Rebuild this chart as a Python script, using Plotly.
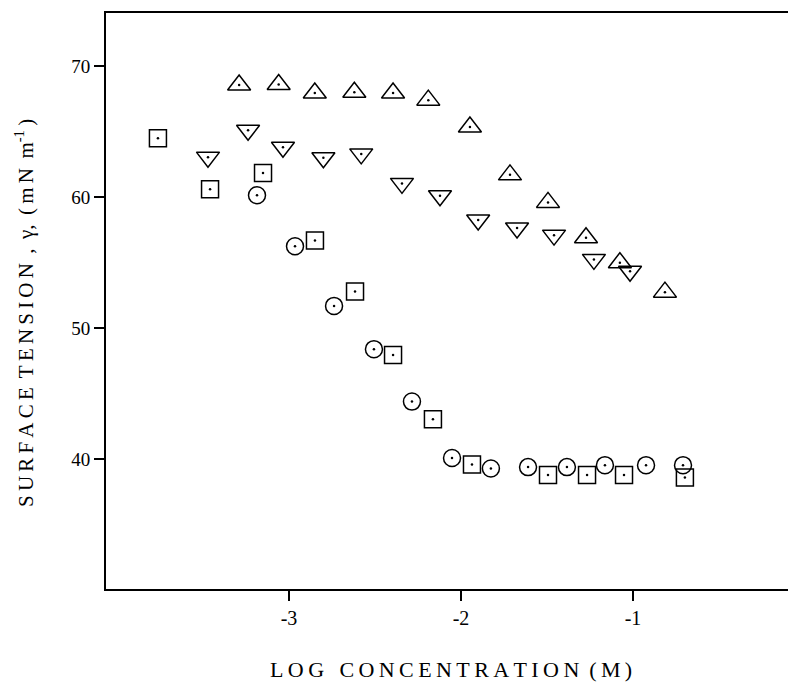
import plotly.graph_objects as go

# Series: log concentration (M) vs surface tension (mN m^-1)
tri_up_x = [-3.29, -3.06, -2.85, -2.62, -2.395, -2.19, -1.948, -1.715, -1.494, -1.273, -1.076, -0.814]
tri_up_y = [68.55, 68.6, 67.95, 68.0, 67.95, 67.4, 65.35, 61.7, 59.6, 56.9, 55.0, 52.75]

tri_dn_x = [-3.471, -3.238, -3.035, -2.80, -2.58, -2.343, -2.122, -1.90, -1.674, -1.459, -1.227, -1.017]
tri_dn_y = [63.05, 65.1, 63.8, 63.0, 63.3, 61.05, 60.1, 58.25, 57.65, 57.1, 55.25, 54.35]

sq_x = [-3.762, -3.459, -3.151, -2.849, -2.616, -2.395, -2.163, -1.936, -1.494, -1.267, -1.052, -0.698]
sq_y = [64.5, 60.6, 61.85, 56.7, 52.8, 47.95, 43.05, 39.6, 38.8, 38.8, 38.8, 38.6]

circ_x = [-3.186, -2.965, -2.738, -2.506, -2.285, -2.052, -1.826, -1.61, -1.384, -1.163, -0.924, -0.709]
circ_y = [60.15, 56.25, 51.7, 48.4, 44.4, 40.1, 39.3, 39.4, 39.4, 39.55, 39.55, 39.55]

x_ticks = [-3, -2, -1]
y_ticks = [40, 50, 60, 70]

SERIF = "Liberation Serif"
TS = "\u2009"  # thin space used as letter spacing


def spaced(s):
    return TS.join(s)


x_title = spaced("LOG") + TS + "  " + spaced("CONCENTRATION") + TS + " " + spaced("(M)")
y_title = (spaced("SURFACE") + TS + " " + spaced("TENSION") + TS + " ," + TS + " γ,"
           + TS + " " + spaced("(mN") + TS + " m<sup>-1</sup>" + TS + ")")

fig = go.Figure()

series = [
    (tri_up_x, tri_up_y, "triangle-up-open", 20),
    (tri_dn_x, tri_dn_y, "triangle-down-open", 20),
    (sq_x, sq_y, "square-open", 17),
    (circ_x, circ_y, "circle-open", 17),
]
for xs, ys, sym, sz in series:
    fig.add_trace(go.Scatter(
        x=xs, y=ys, mode="markers",
        marker=dict(symbol=sym, size=sz, color="black", line=dict(width=1.5, color="black")),
        showlegend=False, hoverinfo="x+y"))
    fig.add_trace(go.Scatter(
        x=xs, y=ys, mode="markers",
        marker=dict(symbol="circle", size=2.5, color="black"),
        showlegend=False, hoverinfo="skip"))

# The page body has an 8px margin, so the figure is 8px smaller to fill 796x685.
fig.update_layout(
    width=788, height=677,
    margin=dict(l=98, r=0, t=5, b=96),
    paper_bgcolor="white", plot_bgcolor="white",
    font=dict(family=SERIF, size=19, color="black"),
    xaxis=dict(
        range=[-4.064, -0.052], tickvals=x_ticks, ticktext=[str(v) for v in x_ticks],
        ticks="outside", ticklen=10, tickwidth=1.5, tickcolor="black",
        showline=True, linewidth=2, linecolor="black", mirror=True,
        showgrid=False, zeroline=False, tickfont=dict(family=SERIF, size=20)),
    yaxis=dict(
        range=[30.1, 74.05], tickvals=y_ticks, ticktext=[str(v) for v in y_ticks],
        ticks="outside", ticklen=10, tickwidth=1.5, tickcolor="black",
        showline=True, linewidth=2, linecolor="black", mirror=False,
        showgrid=False, zeroline=False, tickfont=dict(family=SERIF, size=19)),
    annotations=[
        dict(text=x_title,
             xref="paper", yref="paper", x=0.5, y=-0.14, xanchor="center", yanchor="middle",
             showarrow=False, font=dict(family=SERIF, size=22)),
        dict(text=y_title,
             xref="paper", yref="paper", x=-0.119, y=0.479, xanchor="center", yanchor="middle",
             textangle=-90, showarrow=False, font=dict(family=SERIF, size=21)),
    ],
)

fig.write_html("out.html")
